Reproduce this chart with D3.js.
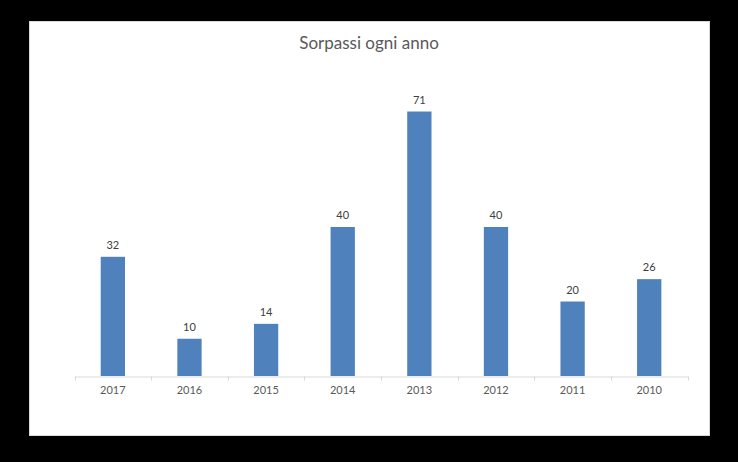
<!DOCTYPE html>
<html><head><meta charset="utf-8">
<script src="https://cdn.jsdelivr.net/npm/d3@7"></script>
<style>body{margin:0;background:#000;}svg{display:block;}</style>
</head><body>
<script>
const categories = ["2017","2016","2015","2014","2013","2012","2011","2010"];
const values = [32,10,14,40,71,40,20,26];
const title = "Sorpassi ogni anno";

const W = 738, H = 462;
const svg = d3.select("body").append("svg").attr("width", W).attr("height", H);
svg.append("rect").attr("width", W).attr("height", H).attr("fill", "#000");
svg.append("rect").attr("x", 29.5).attr("y", 21.5).attr("width", 680).attr("height", 414)
  .attr("fill", "#fff").attr("stroke", "#d9d9d9");

const x = d3.scaleBand().domain(categories).range([74.5, 687.5]).padding(0);
const y = d3.scaleLinear().domain([0, 80]).range([376, 78]);
const font = "Lato, 'Open Sans', sans-serif";

svg.append("text").attr("x", 369).attr("y", 49).attr("text-anchor", "middle")
  .attr("font-family", font).attr("font-size", 17).attr("fill", "#595959").text(title);

const bw = x.bandwidth();
svg.selectAll("rect.bar").data(values).join("rect").attr("class", "bar")
  .attr("x", (d, i) => x(categories[i]) + bw * 0.342)
  .attr("width", bw * 0.317)
  .attr("y", d => y(d)).attr("height", d => y(0) - y(d))
  .attr("fill", "#4F81BD");

svg.selectAll("text.val").data(values).join("text").attr("class", "val")
  .attr("x", (d, i) => x(categories[i]) + bw / 2)
  .attr("y", d => y(d) - 8)
  .attr("text-anchor", "middle").attr("font-family", font).attr("font-size", 11)
  .attr("fill", "#404040").text(d => d);

const axis = svg.append("g").attr("transform", `translate(0,${y(0) + 0.5})`)
  .call(d3.axisBottom(x).tickSize(0).tickPadding(10));
axis.select(".domain").attr("stroke", "#d9d9d9");
axis.selectAll("text").attr("font-family", font).attr("font-size", 11).attr("fill", "#595959");
const edges = categories.map(c => x(c)).concat([x.range()[1]]);
axis.selectAll("line.sep").data(edges).join("line").attr("class", "sep")
  .attr("x1", d => Math.round(d) + 0.5).attr("x2", d => Math.round(d) + 0.5)
  .attr("y1", 0).attr("y2", 4).attr("stroke", "#d9d9d9");
</script>
</body></html>
